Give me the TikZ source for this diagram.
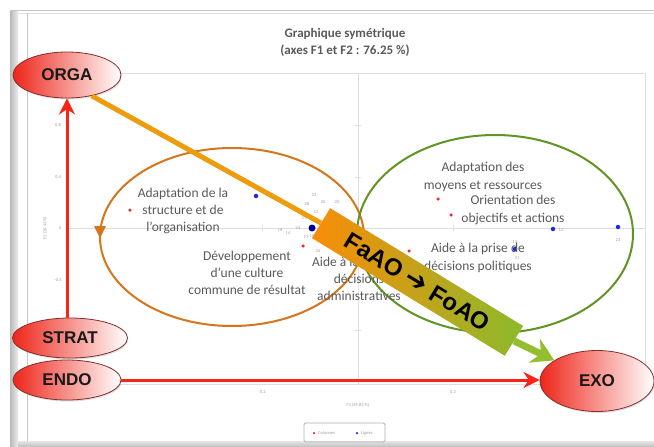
\documentclass[tikz,border=0pt]{standalone}
\usepackage{fontspec}
\setmainfont{Carlito}
\newfontfamily\arialfont{Liberation Sans}
\newfontfamily\dejavu{DejaVu Sans}
\usetikzlibrary{shapes.geometric,arrows.meta,shadows}
\definecolor{arrowred}{RGB}{250,35,20}
\definecolor{ellred}{RGB}{238,38,26}
\definecolor{ellmid}{RGB}{246,120,108}
\definecolor{ellborder}{RGB}{135,45,45}
\definecolor{txtgray}{RGB}{90,90,90}
\definecolor{ellorange}{RGB}{214,118,28}
\definecolor{ellgreen}{RGB}{96,148,36}
\definecolor{lineorange}{RGB}{236,156,12}
\definecolor{bandor}{RGB}{250,140,8}
\definecolor{bandmid}{RGB}{214,164,28}
\definecolor{bandgr}{RGB}{140,186,44}
\definecolor{arrowgreen}{RGB}{146,190,48}
\definecolor{dotred}{RGB}{240,40,40}
\definecolor{dotblue}{RGB}{30,40,230}
\begin{document}
\begin{tikzpicture}[x=1pt,y=-1pt,
  redell/.style={ellipse, draw=ellborder, line width=0.8pt, inner sep=0pt,
    left color=ellred, middle color=ellmid, right color=white,
    font=\arialfont\bfseries\fontsize{17}{17}\selectfont, text=black!90,
    drop shadow={opacity=0.25, shadow xshift=0.8pt, shadow yshift=-1.5pt}},
  chartxt/.style={text=txtgray, font=\fontsize{13.5}{17.3}\selectfont, align=center, inner sep=0pt},
  tinytxt/.style={text=gray!75, font=\fontsize{4.5}{5}\selectfont, inner sep=0pt},
  titletxt/.style={text=txtgray, font=\bfseries\fontsize{13}{17}\selectfont, align=center, inner sep=0pt},
  reddot/.style={circle, fill=dotred, inner sep=0pt, minimum size=3.5pt},
  bluedot/.style={circle, fill=dotblue, inner sep=0pt, minimum size=4.5pt},
  redarrow/.style={draw=arrowred, line width=3pt, -{Stealth[length=16pt,width=16pt]}},
  bandbox/.style={rotate=-31.4, minimum width=226pt, minimum height=35pt, inner sep=0pt,
    left color=bandor, middle color=bandmid, right color=bandgr,
    font=\arialfont\bfseries\fontsize{24}{24}\selectfont, text=black},
  frameline/.style={draw=gray!45, line width=0.8pt},
  gridline/.style={draw=gray!25, line width=0.5pt}
]
\useasboundingbox (0,0) rectangle (654,447);
\fill[white] (0,0) rectangle (654,447);

% slide frame
\shade[left color=gray!55, right color=gray!15] (10,10) rectangle (18,447);
\draw[frameline] (10,10) -- (654,10);
\draw[draw=gray!25, line width=0.8pt] (18,13) -- (654,13);
\draw[frameline] (27,13) -- (27,441);
\shade[top color=gray!20, bottom color=gray!50] (18,441) rectangle (654,447);

% plot area
\draw[gridline] (68,73) rectangle (645,384);
\draw[gridline] (68,228) -- (645,228);
\draw[gridline] (358,73) -- (358,384);
\foreach \yy in {125,177,280,330} {\draw[gridline] (355,\yy) -- (361,\yy);}
\foreach \xx in {262,453} {\draw[gridline] (\xx,225) -- (\xx,231);}

% titles and axis labels
\node[titletxt] (title) at (345,42) {Graphique symétrique\\(axes F1 et F2 : 76.25 \%)};
\node[tinytxt] (t08) at (58,125) {0.8};
\node[tinytxt] (t04) at (58,177) {0.4};
\node[tinytxt] (t00) at (60,228) {0};
\node[tinytxt] (tm04) at (58,280) {-0.4};
\node[tinytxt, rotate=90] (f2) at (45,228) {F2 (26.43 \%)};
\node[tinytxt] (tm02) at (262,392) {-0.2};
\node[tinytxt] (t02) at (453,392) {0.2};
\node[tinytxt] (f1) at (358,405) {F1 (49.83 \%)};

% legend
\draw[draw=gray!60, line width=0.8pt, rounded corners=1.5pt] (304,423) rectangle (385,442);
\node[reddot, minimum size=2.5pt] (lgr) at (314,433) {};
\node[tinytxt, anchor=west] (lgc) at (318,433) {Colonnes};
\node[bluedot, minimum size=2.5pt] (lgb) at (357,433) {};
\node[tinytxt, anchor=west] (lgl) at (361,433) {Lignes};

% cluster ellipses
\draw[draw=ellorange, line width=2pt] (232,237) ellipse [x radius=132pt, y radius=89pt];
\fill[ellorange] (94,226) -- (106,226) -- (100,238) -- cycle;
\draw[draw=ellgreen, line width=2pt] (495,234) ellipse [x radius=138pt, y radius=99pt];

% small point labels
\node[tinytxt] (n22) at (314,195) {22};
\node[tinytxt] (n28) at (307,204) {28};
\node[tinytxt] (n30) at (323,202) {30};
\node[tinytxt] (n20) at (337,202) {20};
\node[tinytxt] (n11) at (316,212) {11};
\node[tinytxt] (n21) at (304,218) {21};
\node[tinytxt] (n24) at (298,228) {24};
\node[tinytxt] (n18) at (280,230) {18};
\node[tinytxt] (n14) at (288,233) {14};
\node[tinytxt] (n17) at (306,237) {17};
\node[tinytxt] (n19) at (312,236) {19};
\node[tinytxt] (n26) at (318,251) {26};
\node[tinytxt] (n12) at (561,230) {12};
\node[tinytxt] (n23) at (618,240) {23};
\node[tinytxt] (n13) at (515,242) {13};
\node[tinytxt] (n31) at (517,258) {31};

% points
\node[bluedot] (b1) at (256,196) {};
\node[bluedot, minimum size=7pt, fill=blue!60!black] (b2) at (312,228) {};
\node[bluedot] (b3) at (553,229) {};
\node[bluedot] (b4) at (618,227) {};
\node[bluedot] (b5) at (515,249) {};
\node[reddot] (r1) at (130,210) {};
\node[reddot] (r2) at (303,246) {};
\node[reddot] (r3) at (438,199) {};
\node[reddot] (r4) at (451,215) {};
\node[reddot] (r5) at (409,251) {};

% chart texts
\node[chartxt] (adapt) at (183,211) {Adaptation de la\\structure et de\\l’organisation};
\node[chartxt] (devel) at (247,273) {Développement\\d’une culture\\commune de résultat};
\node[chartxt] (aideadm) at (359,279) {Aide à la prise de\\décisions\\administratives};
\node[chartxt] (moyens) at (483,177) {Adaptation des\\moyens et ressources};
\node[chartxt] (orient) at (513,210) {Orientation des\\objectifs et actions};
\node[chartxt] (aidepol) at (478,258) {Aide à la prise de\\décisions politiques};

% main nodes
\node[redell, minimum width=108pt, minimum height=46pt] (orga) at (67,75) {ORGA};
\node[redell, minimum width=115pt, minimum height=40pt] (strat) at (70,338) {STRAT};
\node[redell, minimum width=108pt, minimum height=40pt] (endo) at (67,380) {ENDO};
\node[redell, minimum width=114pt, minimum height=61pt] (exo) at (597,381) {EXO};

% red arrows
\draw[redarrow] (strat.north -| orga.south) -- (orga.south);
\draw[redarrow] (endo.east) -- (endo.east -| exo.west);

% band arrow
\node[bandbox] (band) at (417.5,282) {FaAO {\dejavu\bfseries\fontsize{27}{27}\selectfont ➔} FoAO};
\draw[draw=lineorange, line width=5pt] (orga.-40) -- (band.west);
\draw[draw=arrowgreen, line width=7pt, -{Stealth[length=22pt,width=26pt]}] (band.east) -- (exo);
\end{tikzpicture}
\end{document}
